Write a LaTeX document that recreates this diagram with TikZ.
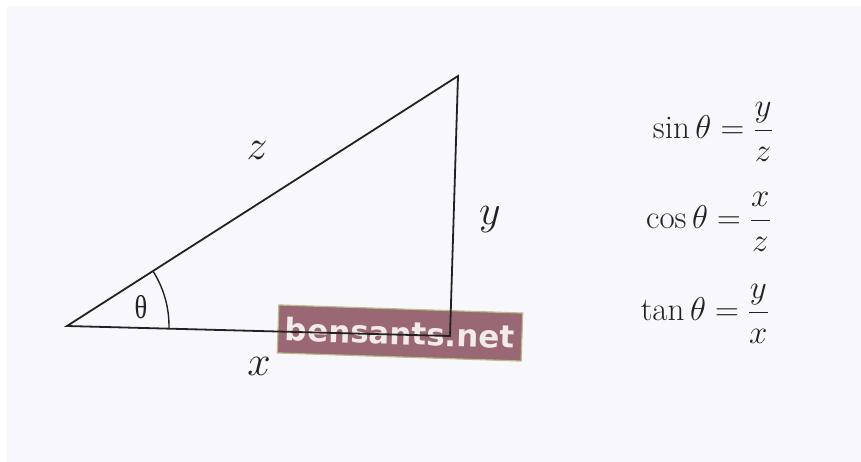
\RequirePackage{fix-cm}
\documentclass[tikz,border=0pt]{standalone}
\usepackage{amsmath}
\usepackage{fontspec}
\newfontfamily\wmfont{DejaVu Sans}
\newfontfamily\thfont{Liberation Serif}
\definecolor{bg}{HTML}{F8F8FC}
\definecolor{ink}{HTML}{222222}
\definecolor{wmfill}{HTML}{9A6775}
\definecolor{wmedge}{HTML}{B9BE86}
\definecolor{wmtext}{HTML}{F3EAEA}
\tikzset{
  tri/.style={draw=ink, line width=1.8pt, line join=miter},
  anglearc/.style={draw=ink, line width=1.4pt},
  sidelabel/.style={text=ink, inner sep=0pt, font=\fontsize{42}{42}\selectfont},
  eqn/.style={text=ink, inner sep=0pt, anchor=east, font=\fontsize{33}{33}\selectfont},
  wmbox/.style={fill=wmfill, draw=wmedge, line width=1.2pt, minimum width=244pt, minimum height=48pt, inner sep=0pt, text=wmtext, font=\wmfont\bfseries\fontsize{31}{31}\selectfont},
}
\begin{document}
\begin{tikzpicture}[x=1pt,y=-1pt]
\fill[white] (0,0) rectangle (861,462);
\fill[bg] (7,6) rectangle (861,462);
\useasboundingbox (0,0) rectangle (861,462);
% watermark
\node[wmbox, rotate=-1.9] (wm) at (400,333) {bensants.net};
% triangle
\coordinate (A) at (67,326);
\coordinate (B) at (458,76);
\coordinate (C) at (450,336);
\draw[tri] (A) -- (B) -- (C) -- cycle;
\draw[anglearc] (A) ++(1.5:102) arc[start angle=1.5, end angle=-32.6, radius=102];
\node[text=ink, inner sep=0pt, xscale=0.8, font=\thfont\fontsize{33}{33}\selectfont] (th) at (141,307) {θ};
\node[sidelabel] (z) at (257,150) {$z$};
\node[sidelabel] (y) at (490,220) {$y$};
\node[sidelabel] (x) at (259,366) {$x$};
% equations
\node[eqn] (sin) at (773,132) {$\sin\theta=\dfrac{y}{z}$};
\node[eqn] (cos) at (771,222) {$\cos\theta=\dfrac{x}{z}$};
\node[eqn] (tan) at (769,314) {$\tan\theta=\dfrac{y}{x}$};
\end{tikzpicture}
\end{document}
